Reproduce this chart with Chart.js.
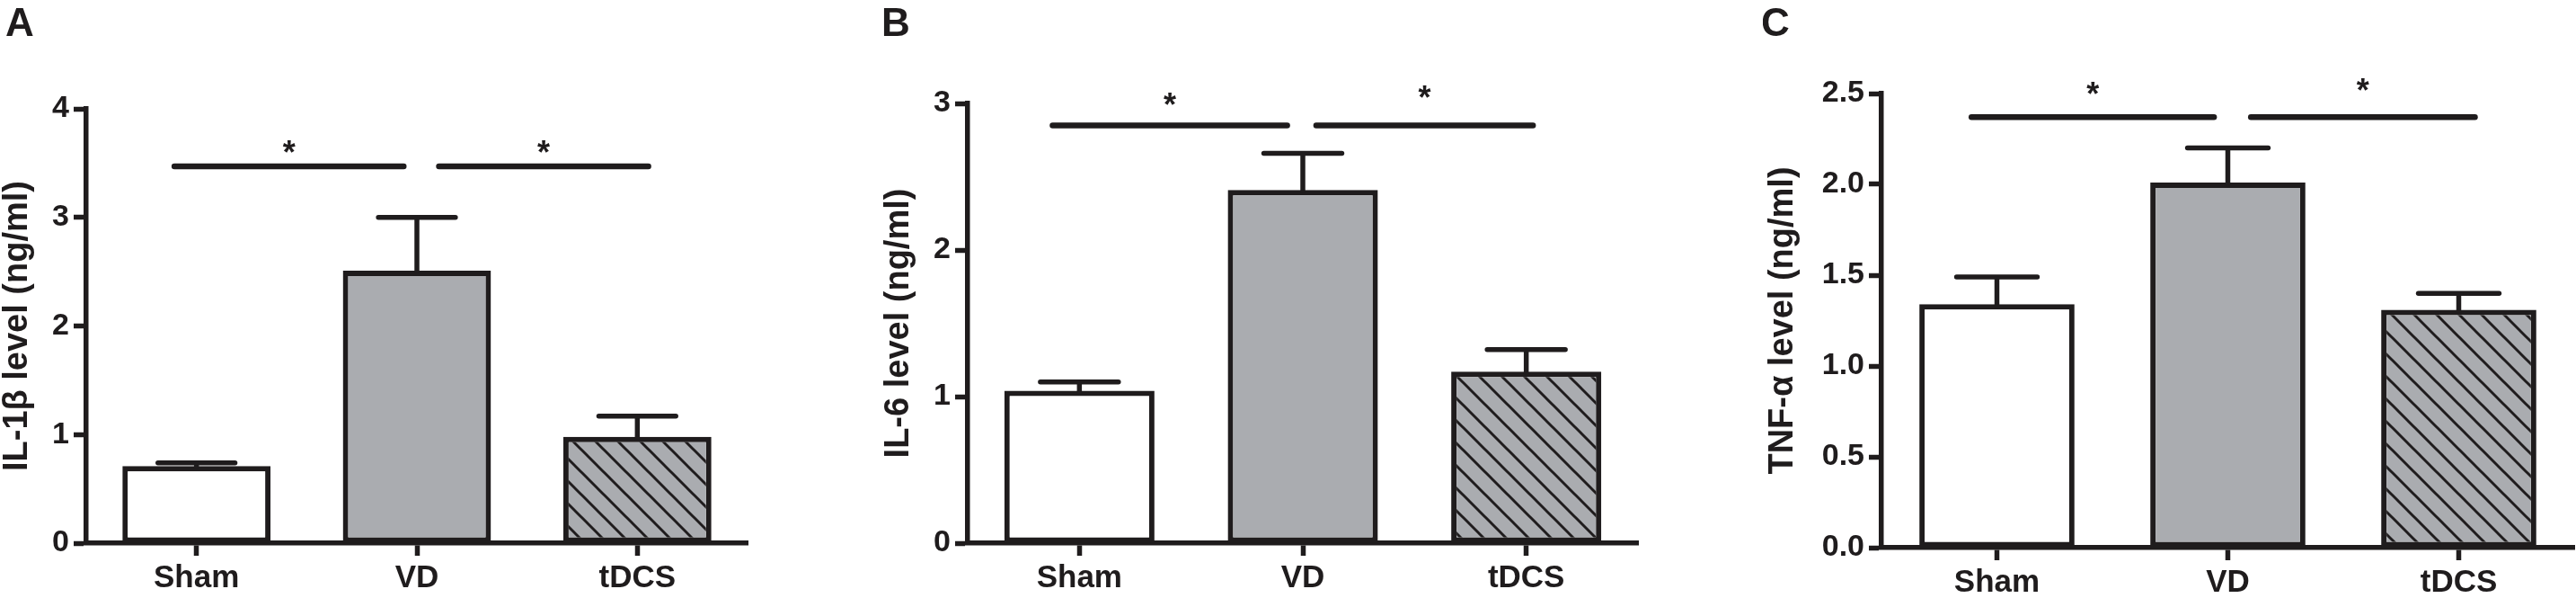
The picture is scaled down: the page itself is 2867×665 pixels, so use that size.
<!DOCTYPE html>
<html>
<head>
<meta charset="utf-8">
<script src="https://cdn.jsdelivr.net/npm/chart.js@4.4.1/dist/chart.umd.min.js"></script>
<style>
  html, body { margin: 0; padding: 0; background: #fff; overflow: hidden; width: 2867px; height: 665px; }
  canvas { position: absolute; top: 0; }
</style>
</head>
<body>
<canvas id="chartA"></canvas>
<canvas id="chartB"></canvas>
<canvas id="chartC"></canvas>
<script>
// Data (mean and SEM, ng/ml)
const categories = ['Sham', 'VD', 'tDCS'];

const il1bValues = [0.71, 2.51, 0.98];
const il1bErrors = [0.03, 0.49, 0.19];
const il1bTicks = [0, 1, 2, 3, 4];

const il6Values = [1.04, 2.41, 1.17];
const il6Errors = [0.06, 0.25, 0.15];
const il6Ticks = [0, 1, 2, 3];

const tnfValues = [1.34, 2.01, 1.31];
const tnfErrors = [0.15, 0.19, 0.09];
const tnfTicks = [0, 0.5, 1.0, 1.5, 2.0, 2.5];

// significance brackets: pairs of groups, y level of the bar, label
const sigPairs = [[0, 1], [1, 2]];
const sigLabels = ['*', '*'];
const il1bSigLevel = 3.47;
const il6SigLevel = 2.85;
const tnfSigLevel = 2.37;

const ink = '#1f1c1d';
const grey = '#aaacb0';

Chart.defaults.font.family = "'Liberation Sans', Arial, sans-serif";
Chart.defaults.color = ink;

// hatched fill for the tDCS bar
function makeHatch() {
  const s = 25;
  const c = document.createElement('canvas');
  c.width = s; c.height = s;
  const g = c.getContext('2d');
  g.fillStyle = grey;
  g.fillRect(0, 0, s, s);
  g.strokeStyle = ink;
  g.lineWidth = 3;
  for (let k = -1; k <= 1; k++) {
    g.beginPath();
    g.moveTo(k * s - 5, -5);
    g.lineTo(k * s + s + 5, s + 5);
    g.stroke();
  }
  return g.createPattern(c, 'repeat');
}
const hatch = makeHatch();

const panels = [
  { id: 'chartA', letter: 'A', letterX: 6, left: -3, width: 863, yWidth: 99, top: 121, xHeight: 61, padRight: 28,
    title: 'IL-1\u03b2 level (ng/ml)', values: il1bValues, errors: il1bErrors, ticks: il1bTicks, decimals: 0,
    sigLevel: il1bSigLevel, sigSpan: [[-0.1, 0.94], [1.1, 2.05]], starLift: [22, 22] },
  { id: 'chartB', letter: 'B', letterX: 981, left: 978, width: 872, yWidth: 99, top: 115, xHeight: 61, padRight: 27,
    title: 'IL-6 level (ng/ml)', values: il6Values, errors: il6Errors, ticks: il6Ticks, decimals: 0,
    sigLevel: il6SigLevel, sigSpan: [[-0.12, 0.93], [1.06, 2.03]], starLift: [29, 37] },
  { id: 'chartC', letter: 'C', letterX: 1960, left: 1962, width: 905, yWidth: 132, top: 104, xHeight: 56, padRight: 2,
    title: 'TNF-\u03b1 level (ng/ml)', values: tnfValues, errors: tnfErrors, ticks: tnfTicks, decimals: 1,
    sigLevel: tnfSigLevel, sigSpan: [[-0.11, 0.94], [1.1, 2.07]], starLift: [32, 36] }
];

// error bars, significance lines and panel letter
function extras(p) {
  return {
    id: 'extras',
    afterDatasetsDraw(chart) {
      const ctx = chart.ctx;
      const meta = chart.getDatasetMeta(0);
      const xs = chart.scales.x, ys = chart.scales.y;
      ctx.save();
      ctx.strokeStyle = ink;
      ctx.fillStyle = ink;
      ctx.lineWidth = 5.5;
      p.values.forEach((v, i) => {
        const bar = meta.data[i];
        const yTop = ys.getPixelForValue(v + p.errors[i]);
        const half = bar.width * 0.26;
        ctx.lineCap = 'butt';
        ctx.beginPath();
        ctx.moveTo(bar.x, ys.getPixelForValue(v) + 3);
        ctx.lineTo(bar.x, yTop);
        ctx.stroke();
        ctx.lineCap = 'round';
        ctx.beginPath();
        ctx.moveTo(bar.x - half, yTop);
        ctx.lineTo(bar.x + half, yTop);
        ctx.stroke();
      });

      const ly = ys.getPixelForValue(p.sigLevel);
      ctx.lineWidth = 6.5;
      ctx.lineCap = 'round';
      ctx.font = 'bold 36px ' + Chart.defaults.font.family;
      ctx.textAlign = 'center';
      ctx.textBaseline = 'alphabetic';
      sigPairs.forEach((pair, k) => {
        const x1 = xs.getPixelForValue(pair[0] + (p.sigSpan[k][0] - pair[0]));
        const x2 = xs.getPixelForValue(pair[1] + (p.sigSpan[k][1] - pair[1]));
        ctx.beginPath();
        ctx.moveTo(x1, ly);
        ctx.lineTo(x2, ly);
        ctx.stroke();
        ctx.fillText(sigLabels[k], (x1 + x2) / 2, ly - p.starLift[k] + 19);
      });

      ctx.font = 'bold 44px ' + Chart.defaults.font.family;
      ctx.textAlign = 'left';
      ctx.fillText(p.letter, p.letterX - p.left, 40);
      ctx.restore();
    }
  };
}

panels.forEach(p => {
  const el = document.getElementById(p.id);
  el.width = p.width;
  el.height = 665;
  el.style.left = p.left + 'px';
  el.style.width = p.width + 'px';
  el.style.height = '665px';

  new Chart(el.getContext('2d'), {
    type: 'bar',
    data: {
      labels: categories,
      datasets: [{
        data: p.values,
        backgroundColor: ['#ffffff', grey, hatch],
        borderColor: ink,
        borderWidth: 6,
        borderSkipped: false,
        barPercentage: 0.672,
        categoryPercentage: 1
      }]
    },
    options: {
      responsive: false,
      animation: false,
      devicePixelRatio: 1,
      layout: { padding: { left: 0, top: p.top, right: p.padRight, bottom: 0 } },
      plugins: { legend: { display: false }, tooltip: { enabled: false } },
      scales: {
        x: {
          offset: true,
          ticks: { font: { size: 35, weight: 'bold' }, color: ink, padding: 4, maxRotation: 0 },
          grid: { offset: false, drawOnChartArea: false, tickLength: 14, tickWidth: 5.5, tickColor: ink },
          border: { display: true, width: 5.5, color: ink },
          afterFit: s => { s.height = p.xHeight; }
        },
        y: {
          min: p.ticks[0],
          max: p.ticks[p.ticks.length - 1],
          afterBuildTicks: s => { s.ticks = p.ticks.map(v => ({ value: v })); },
          ticks: { font: { size: 34, weight: 'bold' }, color: ink, padding: 5,
                   callback: v => Number(v).toFixed(p.decimals) },
          grid: { drawOnChartArea: false, tickLength: 14, tickWidth: 5.5, tickColor: ink },
          border: { display: true, width: 5.5, color: ink },
          title: { display: true, text: p.title, color: ink, padding: 0, font: { size: 38, weight: 'bold' } },
          afterFit: s => { s.width = p.yWidth; }
        }
      }
    },
    plugins: [extras(p)]
  });
});
</script>
</body>
</html>
